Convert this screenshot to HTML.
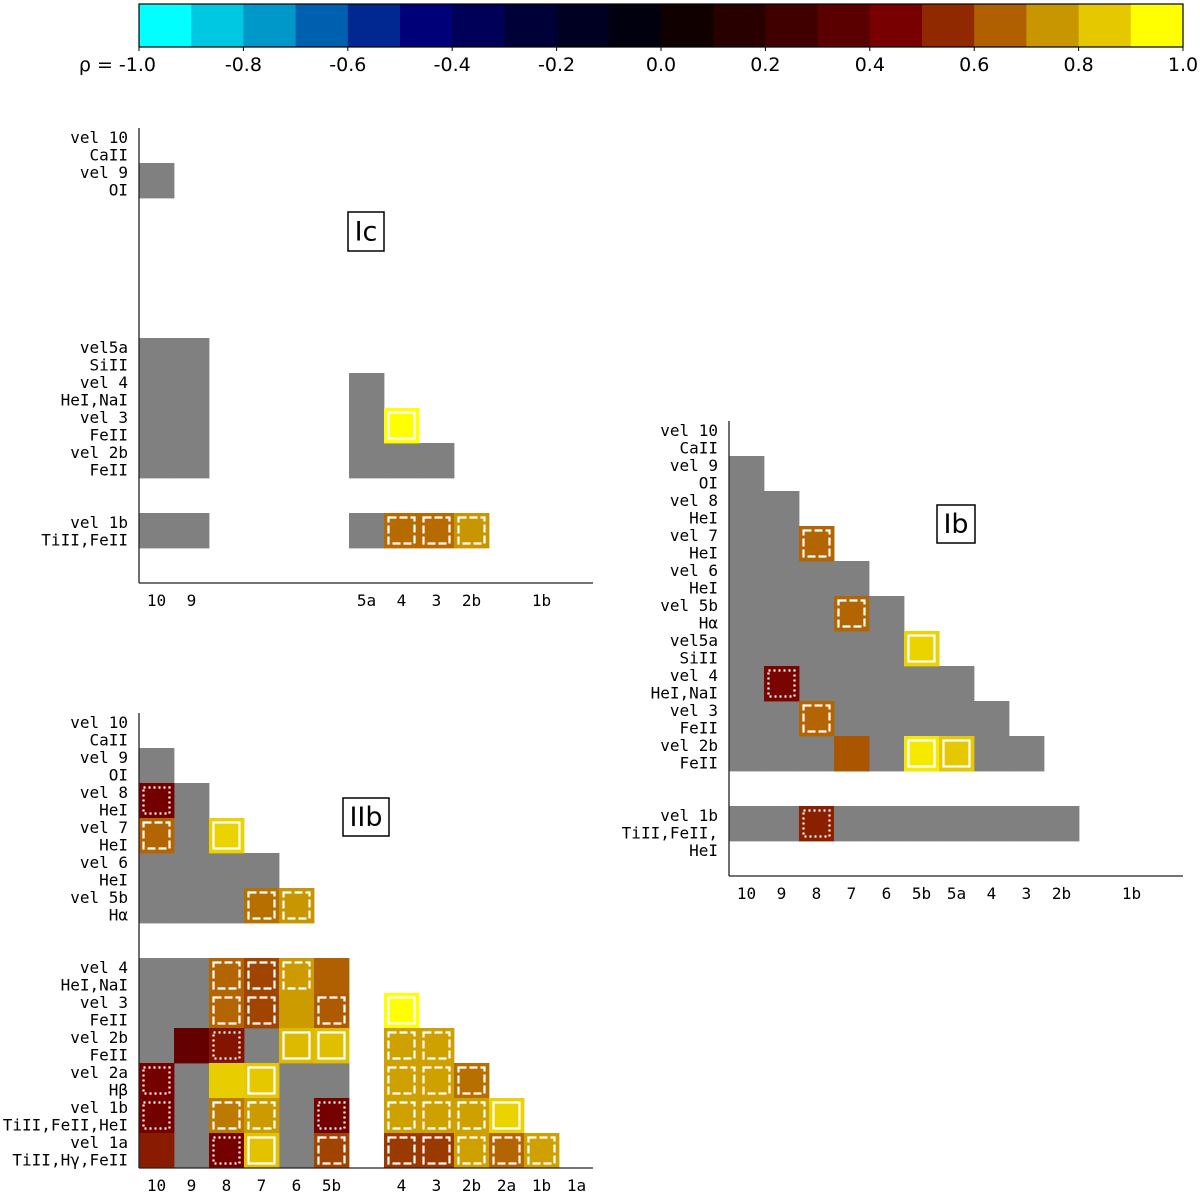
<!DOCTYPE html>
<html><head><meta charset="utf-8"><style>
html,body{margin:0;padding:0;background:#fff;}
svg{display:block;}
.mono{font-family:"DejaVu Sans Mono","Liberation Mono",monospace;font-size:16px;fill:#000;}
.sans{font-family:"DejaVu Sans","Liberation Sans",sans-serif;}
</style></head><body>
<svg id="chart" width="1200" height="1196" viewBox="0 0 1200 1196" xmlns="http://www.w3.org/2000/svg"></svg>
<script>
// ---- data ----
const keys = ['10','9','8','7','6','5b','5a','4','3','2b','2a','1b','1a'];
const cbTicks = ['-1.0','-0.8','-0.6','-0.4','-0.2','0.0','0.2','0.4','0.6','0.8','1.0'];
const cbBins = ['#00ffff','#00c8e2','#0098c8','#0060b0','#002890','#000078','#000058','#000038','#000022','#00000f','#100000','#280000','#400000','#5a0000','#780000','#902800','#b06000','#c89600','#e6c800','#ffff00'];

const icRowLabels = {'10':['vel 10','CaII'],'9':['vel 9','OI'],'5a':['vel5a','SiII'],'4':['vel 4','HeI,NaI'],'3':['vel 3','FeII'],'2b':['vel 2b','FeII'],'1b':['vel 1b','TiII,FeII']};
const icColLabels = ['10','9','5a','4','3','2b','1b'];
const icCells = [
 ['9','10',null,''],
 ['5a','10',null,''],['5a','9',null,''],['4','10',null,''],['4','9',null,''],
 ['3','10',null,''],['3','9',null,''],['2b','10',null,''],['2b','9',null,''],
 ['1b','10',null,''],['1b','9',null,''],
 ['4','5a',null,''],['3','5a',null,''],['2b','5a',null,''],['2b','4',null,''],['2b','3',null,''],['1b','5a',null,''],
 ['3','4',0.97,'solid'],['1b','4',0.67,'dashed'],['1b','3',0.67,'dashed'],['1b','2b',0.75,'dashed']
];

const iibRowLabels = {'10':['vel 10','CaII'],'9':['vel 9','OI'],'8':['vel 8','HeI'],'7':['vel 7','HeI'],'6':['vel 6','HeI'],'5b':['vel 5b','Hα'],'4':['vel 4','HeI,NaI'],'3':['vel 3','FeII'],'2b':['vel 2b','FeII'],'2a':['vel 2a','Hβ'],'1b':['vel 1b','TiII,FeII,HeI'],'1a':['vel 1a','TiII,Hγ,FeII']};
const iibColLabels = ['10','9','8','7','6','5b','4','3','2b','2a','1b','1a'];
const iibCells = [
 ['9','10',null,''],['8','9',null,''],['7','9',null,''],
 ['6','10',null,''],['6','9',null,''],['6','8',null,''],['6','7',null,''],
 ['5b','10',null,''],['5b','9',null,''],['5b','8',null,''],
 ['4','10',null,''],['4','9',null,''],['3','10',null,''],['3','9',null,''],
 ['2b','10',null,''],['2b','7',null,''],
 ['2a','9',null,''],['2a','6',null,''],['2a','5b',null,''],
 ['1b','9',null,''],['1b','6',null,''],['1a','9',null,''],['1a','6',null,''],
 ['8','10',0.43,'dotted'],['7','10',0.66,'dashed'],['7','8',0.87,'solid'],
 ['5b','7',0.68,'dashed'],['5b','6',0.75,'dashed'],
 ['4','8',0.66,'dashed'],['4','7',0.6,'dashed'],['4','6',0.76,'dashed'],['4','5b',0.65,'none'],
 ['3','8',0.66,'dashed'],['3','7',0.6,'dashed'],['3','6',0.76,'none'],['3','5b',0.64,'dashed'],['3','4',0.97,'solid'],
 ['2b','9',0.38,'none'],['2b','8',0.5,'dotted'],['2b','6',0.82,'solid'],['2b','5b',0.83,'solid'],['2b','4',0.77,'dashed'],['2b','3',0.77,'dashed'],
 ['2a','10',0.44,'dotted'],['2a','8',0.86,'none'],['2a','7',0.85,'solid'],['2a','4',0.77,'dashed'],['2a','3',0.77,'dashed'],['2a','2b',0.68,'dashed'],
 ['1b','10',0.44,'dotted'],['1b','8',0.7,'dashed'],['1b','7',0.76,'dashed'],['1b','5b',0.44,'dotted'],['1b','4',0.77,'dashed'],['1b','3',0.77,'dashed'],['1b','2b',0.77,'dashed'],['1b','2a',0.87,'solid'],
 ['1a','10',0.52,'none'],['1a','8',0.44,'dotted'],['1a','7',0.84,'solid'],['1a','5b',0.6,'dashed'],['1a','4',0.58,'dashed'],['1a','3',0.58,'dashed'],['1a','2b',0.77,'dashed'],['1a','2a',0.66,'dashed'],['1a','1b',0.77,'dashed']
];

const ibRowLabels = {'10':['vel 10','CaII'],'9':['vel 9','OI'],'8':['vel 8','HeI'],'7':['vel 7','HeI'],'6':['vel 6','HeI'],'5b':['vel 5b','Hα'],'5a':['vel5a','SiII'],'4':['vel 4','HeI,NaI'],'3':['vel 3','FeII'],'2b':['vel 2b','FeII'],'1b':['vel 1b','TiII,FeII,','HeI']};
const ibColLabels = ['10','9','8','7','6','5b','5a','4','3','2b','1b'];
const ibGrayRows = ['9','8','7','6','5b','5a','4','3','2b'];
const ibCells = [
 ['1b','10',null,''],['1b','9',null,''],['1b','8',0.53,'dotted'],['1b','7',null,''],['1b','6',null,''],['1b','5b',null,''],['1b','5a',null,''],['1b','4',null,''],['1b','3',null,''],['1b','2b',null,''],
 ['7','8',0.66,'dashed'],['5b','7',0.66,'dashed'],['5a','5b',0.87,'solid'],['4','9',0.46,'dotted'],['3','8',0.66,'dashed'],
 ['2b','7',0.63,'none'],['2b','5b',0.91,'solid'],['2b','5a',0.85,'solid']
];

// ---- helpers ----
const NS='http://www.w3.org/2000/svg';
const svg=document.getElementById('chart');
function mk(tag,attrs,parent){const e=document.createElementNS(NS,tag);for(const k in attrs)e.setAttribute(k,attrs[k]);(parent||svg).appendChild(e);return e;}
function hex2rgb(h){return [parseInt(h.slice(1,3),16),parseInt(h.slice(3,5),16),parseInt(h.slice(5,7),16)];}
function colorOf(v){
  const p=(v+1)/0.1-0.5;
  const i=Math.max(0,Math.min(cbBins.length-2,Math.floor(p)));
  const t=Math.max(0,Math.min(1,p-i));
  const a=hex2rgb(cbBins[i]),b=hex2rgb(cbBins[i+1]);
  return 'rgb('+a.map((x,k)=>Math.round(x+(b[k]-x)*t)).join(',')+')';
}
const CELL=35;

// ---- colorbar ----
const CB={x0:139,x1:1183,y0:4,y1:47};
const cbScale=v=>CB.x0+(v+1)/2*(CB.x1-CB.x0);
const cbG=mk('g',{});


cbBins.forEach((c,i)=>{
  const v0=-1+i*0.1;
  const r=mk('rect',{x:cbScale(v0),y:CB.y0,width:cbScale(v0+0.1)-cbScale(v0)+0.5,height:CB.y1-CB.y0,fill:c},cbG);
  
  
});
mk('rect',{x:CB.x0,y:CB.y0,width:CB.x1-CB.x0,height:CB.y1-CB.y0,fill:'none',stroke:'#000','stroke-width':1.2},cbG);
cbTicks.forEach((t,i)=>{
  const v=parseFloat(t);const x=cbScale(v);
  mk('line',{x1:x,x2:x,y1:CB.y1,y2:CB.y1+4,stroke:'#000','stroke-width':1},cbG);
  const tx=mk('text',{x:i===0?x+17:x,y:71,'text-anchor':i===0?'end':'middle',class:'sans','font-size':19},cbG);
  tx.textContent=i===0?'ρ = '+t:t;
  
  
});

// ---- panels ----
function panel(name,ox,oy,rowLabels,colLabels,cells,box,xEnd,labelX){
  const g=mk('g',{});
  
  
  const xs=k=>ox+keys.indexOf(k)*CELL;
  const ys=k=>oy+keys.indexOf(k)*CELL;
  cells.forEach(c=>{
    const [r,col,v,st]=c;
    const x=xs(col),y=ys(r);
    const fill=v===null?'#808080':colorOf(v);
    const rect=mk('rect',{x:x,y:y,width:CELL+0.4,height:CELL+0.4,fill:fill},g);
    
    
    if(v!==null && st && st!=='none'){
      const a={x:x+4.5,y:y+4.5,width:CELL-9,height:CELL-9,fill:'none',stroke:'#fff','stroke-width':2.2};
      if(st==='dashed')a['stroke-dasharray']='8,3';
      if(st==='dotted')a['stroke-dasharray']='2,3';
      const b=mk('rect',a,g);
      
      
    }
  });
  const bottom=oy+13*CELL;
  mk('line',{x1:ox,x2:ox,y1:oy,y2:bottom,stroke:'#222','stroke-width':1.3},g);
  mk('line',{x1:ox,x2:xEnd,y1:bottom,y2:bottom,stroke:'#222','stroke-width':1.3},g);
  for(const k in rowLabels){
    rowLabels[k].forEach((s,j)=>{
      const t=mk('text',{x:labelX,y:ys(k)+15+j*17.5,'text-anchor':'end',class:'mono'},g);
      t.textContent=s;
      
      
    });
  }
  colLabels.forEach(k=>{
    const t=mk('text',{x:xs(k)+CELL/2,y:bottom+23,'text-anchor':'middle',class:'mono'},g);
    t.textContent=k;
    
    
  });
  const bx=mk('rect',{x:box[0],y:box[1],width:box[2],height:box[3],fill:'#fff',stroke:'#000','stroke-width':1.5},g);
  
  
  const bt=mk('text',{x:box[0]+box[2]/2,y:box[1]+box[3]/2+9,'text-anchor':'middle',class:'sans','font-size':27},g);
  bt.textContent=name;
  
  
}
panel('Ic',139,128,icRowLabels,icColLabels,icCells,[348,212,36,39],593,128);
panel('IIb',139,713,iibRowLabels,iibColLabels,iibCells,[343,798,46,38],593,128);
const ibAll=[];
ibGrayRows.forEach(r=>{const ri=keys.indexOf(r);for(let c=0;c<ri;c++)ibAll.push([r,keys[c],null,'']);});
ibCells.forEach(c=>ibAll.push(c));
panel('Ib',729,421,ibRowLabels,ibColLabels,ibAll,[937,505,38,38],1183,718);
</script>
</body></html>
